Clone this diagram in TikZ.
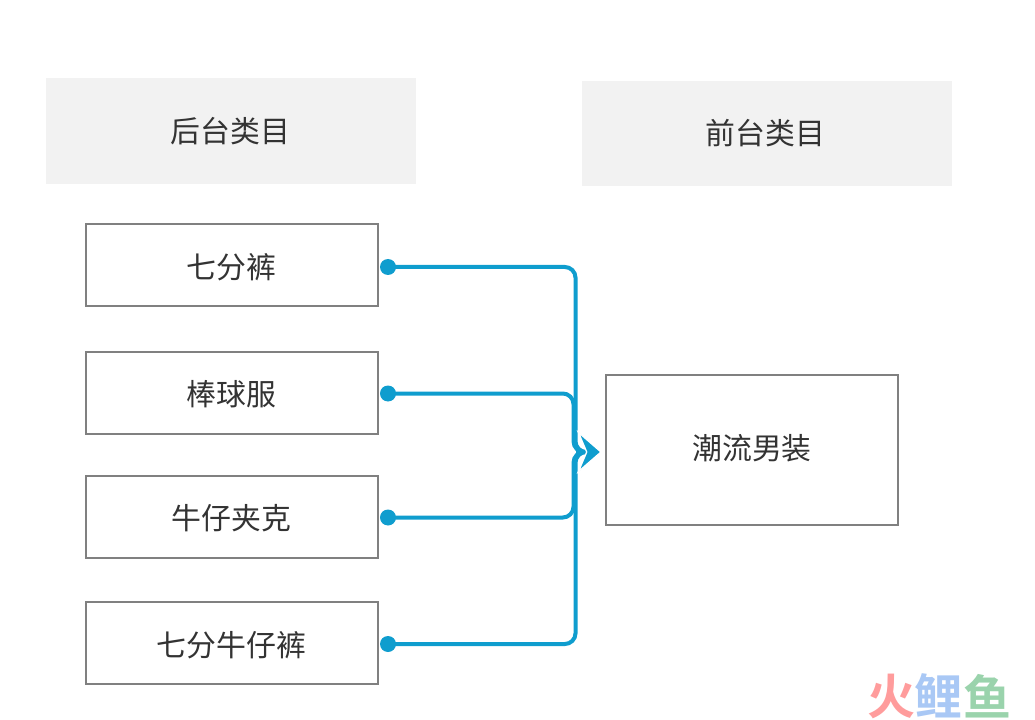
\documentclass[tikz,border=0pt]{standalone}
\usepackage{fontspec}
\setmainfont{Noto Sans CJK SC}
\newfontfamily\wmfont[BoldFont=* Bold]{Noto Sans CJK SC}
\usetikzlibrary{arrows.meta}
\definecolor{flow}{HTML}{0F9DCE}
\definecolor{edge}{HTML}{808080}
\definecolor{head}{HTML}{F2F2F2}
\definecolor{ink}{HTML}{333333}
\definecolor{wmred}{HTML}{FF9C9C}
\definecolor{wmblue}{HTML}{A9C8F5}
\definecolor{wmgreen}{HTML}{9AD3AC}
\tikzset{
  label text/.style={font=\fontsize{22.4}{26}\selectfont,text=ink,inner sep=0pt,outer sep=0pt},
  headbox/.style={label text,fill=head,minimum width=277.5pt,minimum height=79pt},
  catbox/.style={label text,draw=edge,line width=1.5pt,minimum width=219pt,minimum height=61.5pt,text height=23pt,text depth=3pt},
  targetbox/.style={catbox,minimum height=113pt,text height=19.7pt,text depth=5.7pt},
  portdot/.style={circle,fill=flow,minimum size=12pt,inner sep=0pt,outer sep=0pt},
  flowline/.style={draw=flow,line width=3pt,rounded corners=8pt,shorten >=9pt},
  flowtip/.style={-{Stealth[length=19pt,width=33pt,inset=7pt,fill=flow,color=white,line width=1pt]},shorten >=3pt}
}
\tikzset{wm/.style={font=\wmfont\bfseries\fontsize{36}{40}\selectfont,inner sep=0pt}}
\begin{document}
\begin{tikzpicture}[x=0.75pt,y=-0.75pt]
\useasboundingbox (0,0) rectangle (1035,720);
\node[headbox] (back) at (231,131) {\kern-1pt 后台类目};
\node[headbox] (front) at (767,133.5) {\kern-2pt 前台类目};
\node[catbox] (a) at (232,265.5) {\kern-1pt 七分裤};
\node[catbox] (b) at (232,392.5) {\kern-1pt 棒球服};
\node[catbox] (c) at (232,516.5) {\kern-1pt 牛仔夹克};
\node[catbox] (d) at (232,643) {\kern-1pt 七分牛仔裤};
\node[targetbox] (t) at (752,450) {潮流男装};
\node[portdot] (pa) at (388,267) {};
\node[portdot] (pb) at (388,393.5) {};
\node[portdot] (pc) at (388,517.5) {};
\node[portdot] (pd) at (388,644) {};
\coordinate (busa) at (575.5,452);
\coordinate (busb) at (573.5,452);
\coordinate (entry) at (t.west |- busa);
\draw[flowline] (pa.center) -| (busa) -- (entry);
\draw[flowline] (pd.center) -| (busa) -- (entry);
\draw[flowline] (pb.center) -| (busb) -- (entry);
\draw[flowline] (pc.center) -| (busb) -- (entry);
\draw[flow,line width=3pt,flowtip] (busa) -- (entry);
\node[wm,text=wmred] (w1) at (891,696) {火};
\node[wm,text=wmblue] (w2) at (938,696) {鲤};
\node[wm,text=wmgreen] (w3) at (987,696) {鱼};
\end{tikzpicture}
\end{document}
